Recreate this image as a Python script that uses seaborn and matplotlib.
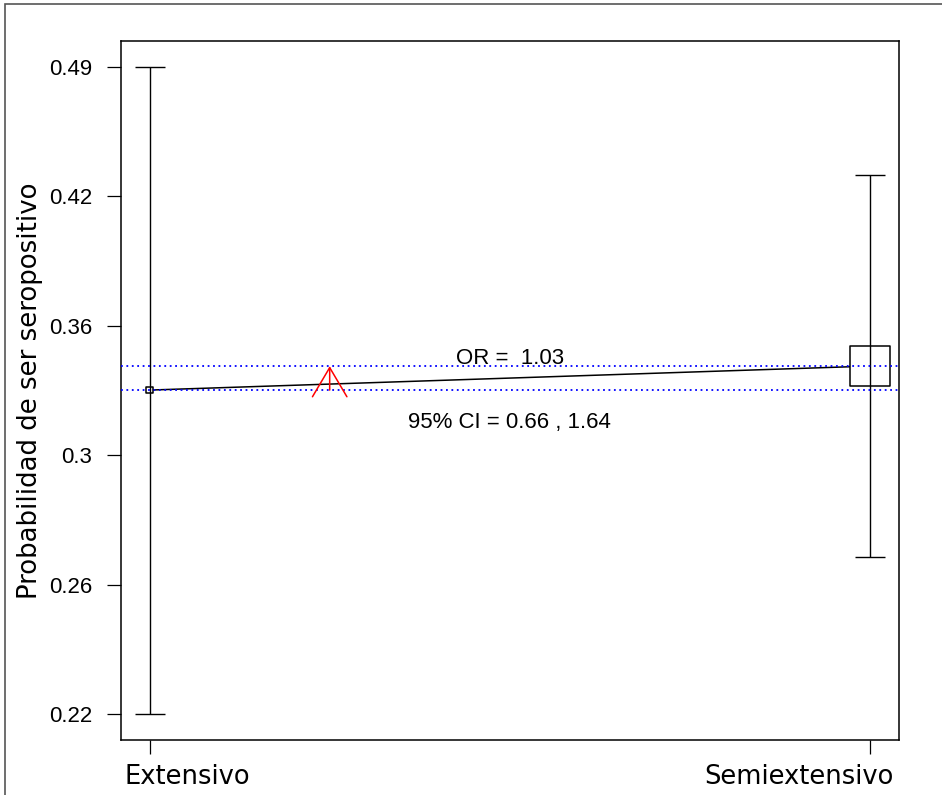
import numpy as np
import pandas as pd
import matplotlib
matplotlib.use("Agg")
import matplotlib.pyplot as plt
import matplotlib.patches as mpatches
import seaborn as sns

# Group estimates of the probability of being seropositive
groups = ["Extensivo", "Semiextensivo"]
prob = [0.3285, 0.3384]
ci_lower = [0.22, 0.2673]
ci_upper = [0.49, 0.4289]

# Odds ratio summary
odds_ratio = 1.03
or_ci = [0.66, 1.64]

# Y tick labels (log-spaced ticks across the CI range)
ytick_labels = ["0.22", "0.26", "0.3", "0.36", "0.42", "0.49"]

y_label = "Probabilidad de ser seropositivo"

sns.set_style("ticks")
plt.rcParams["font.family"] = ["DejaVu Sans"]
plt.rcParams.update({
    "text.color": "black",
    "axes.labelcolor": "black",
    "xtick.color": "black",
    "ytick.color": "black",
})

df = pd.DataFrame({
    "pos": np.arange(1, len(groups) + 1),
    "grupo": groups,
    "prob": prob,
    "lo": ci_lower,
    "hi": ci_upper,
})

fig = plt.figure(figsize=(9.42, 7.95), dpi=100)
ax = fig.add_axes([120.7 / 942, 1 - 740 / 795, (899 - 120.7) / 942, (740 - 41) / 795])

# connecting line between the two estimates
sns.lineplot(data=df, x="pos", y="prob", ax=ax, color="black", lw=1.1,
             zorder=2, estimator=None, sort=False)

# squares for the point estimates (area reflects group weight)
sns.scatterplot(data=df, x="pos", y="prob", ax=ax, marker="s",
                s=[4.5 ** 2, 28.8 ** 2], facecolor="white",
                edgecolor="black", linewidth=1.1, zorder=3, legend=False)

# confidence intervals
ax.errorbar(df["pos"], df["prob"],
            yerr=[df["prob"] - df["lo"], df["hi"] - df["prob"]],
            fmt="none", ecolor="black", elinewidth=1.0, capsize=10.8,
            capthick=1.0, zorder=4)

# reference lines at each estimate
for p in prob:
    ax.axhline(p, color="blue", lw=1.3, dashes=(1, 2.0), zorder=5)

# direction arrow between the estimates
ax.annotate("", xy=(1.25, prob[1]), xytext=(1.25, prob[0]),
            arrowprops=dict(arrowstyle="->,head_length=2.1,head_width=1.24",
                            color="red", lw=1.1, mutation_scale=10,
                            shrinkA=0, shrinkB=0), zorder=6)

# odds ratio annotations
ax.annotate(f"OR =  {odds_ratio:.2f}", xy=(1.5, max(prob)), xytext=(0, 1.2),
            textcoords="offset points", ha="center", va="baseline",
            fontsize=16, family="Liberation Sans", zorder=7)
ax.annotate(f"95% CI = {or_ci[0]:.2f} , {or_ci[1]:.2f}", xy=(1.5, min(prob)),
            xytext=(0, -27.6), textcoords="offset points", ha="center",
            va="baseline", fontsize=16, family="Liberation Sans", zorder=7)

# axes scales and limits
ax.set_yscale("log")
y_min, y_max = min(ci_lower), max(ci_upper)
lspan = np.log(y_max) - np.log(y_min)
ax.set_ylim(np.exp(np.log(y_min) - 0.04 * lspan), np.exp(np.log(y_max) + 0.04 * lspan))
ax.set_xlim(1 - 0.04, len(groups) + 0.04)

ax.set_yticks(np.geomspace(y_min, y_max, len(ytick_labels)))
ax.set_yticklabels(ytick_labels)
ax.yaxis.set_minor_locator(matplotlib.ticker.NullLocator())
ax.set_xticks(df["pos"])

ax.tick_params(axis="both", direction="out", length=10, width=0.9, color="black")
ax.tick_params(axis="y", pad=10.5, labelsize=16)
ax.tick_params(axis="x", labelbottom=False)
for lab in ax.get_yticklabels():
    lab.set_family("Liberation Sans")

# group names under the ticks, kept inside the figure at both ends
ax.annotate(groups[0], xy=(df["pos"].iloc[0], 0), xycoords=("data", "axes fraction"),
            xytext=(-18, -17), textcoords="offset points", ha="left", va="top",
            fontsize=18.5)
ax.annotate(groups[-1], xy=(df["pos"].iloc[-1], 0), xycoords=("data", "axes fraction"),
            xytext=(16.6, -17), textcoords="offset points", ha="right", va="top",
            fontsize=18.5)

ax.set_xlabel("")
ax.set_ylabel(y_label, fontsize=18.7)
ax.yaxis.set_label_coords((43 - 120.7) / 778.3, 0.5)

for sp in ax.spines.values():
    sp.set_visible(True)
    sp.set_linewidth(1.1)
    sp.set_color("black")

# outer frame of the figure
frame = mpatches.Rectangle((5 / 942, -0.05), 1.2, 1 - 4 / 795 + 0.05,
                           transform=fig.transFigure, fill=False,
                           edgecolor="#555555", lw=1.2, clip_on=False)
fig.patches.append(frame)

fig.savefig("out.png", dpi=100)
